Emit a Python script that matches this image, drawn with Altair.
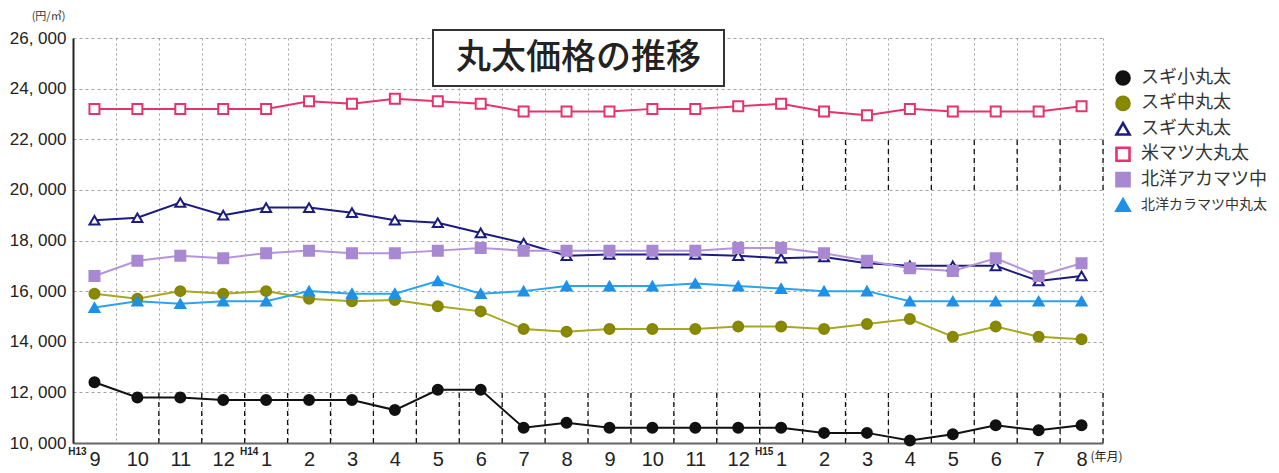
import json
import altair as alt
import pandas as pd
import numpy as np

# ---------------- data ----------------
months = ["9", "10", "11", "12", "1", "2", "3", "4", "5", "6", "7", "8",
          "9", "10", "11", "12", "1", "2", "3", "4", "5", "6", "7", "8"]
eras = ["H13", "H14", "H15"]
era_pos = [0, 4, 16]

series_names = ["スギ小丸太", "スギ中丸太", "スギ大丸太",
                "米マツ大丸太", "北洋アカマツ中", "北洋カラマツ中丸太"]

sugi_small = [12400, 11800, 11800, 11700, 11700, 11700, 11700, 11300, 12100, 12100, 10600, 10800,
              10600, 10600, 10600, 10600, 10600, 10400, 10400, 10100, 10350, 10700, 10500, 10700]
sugi_mid = [15900, 15700, 16000, 15900, 16000, 15700, 15600, 15650, 15400, 15200, 14500, 14400,
            14500, 14500, 14500, 14600, 14600, 14500, 14700, 14900, 14200, 14600, 14200, 14100]
sugi_large = [18800, 18900, 19500, 19000, 19300, 19300, 19100, 18800, 18700, 18300, 17900, 17400,
              17450, 17450, 17450, 17400, 17300, 17350, 17100, 17000, 17000, 17000, 16400, 16600]
beimatsu = [23200, 23200, 23200, 23200, 23200, 23500, 23400, 23600, 23500, 23400, 23100, 23100,
            23100, 23200, 23200, 23300, 23400, 23100, 22950, 23200, 23100, 23100, 23100, 23300]
akamatsu = [16600, 17200, 17400, 17300, 17500, 17600, 17500, 17500, 17600, 17700, 17600, 17600,
            17600, 17600, 17600, 17700, 17700, 17500, 17200, 16900, 16800, 17300, 16600, 17100]
karamatsu = [15350, 15600, 15500, 15600, 15600, 16000, 15900, 15900, 16400, 15900, 16000, 16200,
             16200, 16200, 16300, 16200, 16100, 16000, 16000, 15600, 15600, 15600, 15600, 15600]

y_ticks = list(range(10000, 26001, 2000))

title_text = "丸太価格の推移"
y_unit = "(円/㎥)"
x_unit = "(年月)"

# ---------------- styles ----------------
line_colors = ["#111111", "#A8A820", "#1C1C80", "#E8336A", "#B494DC", "#2AA4EE"]
stroke_colors = ["#111111", "#85850A", "#1C1C80", "#E8336A", "#A888D0", "#1E90E8"]
fill_colors = ["#111111", "#8A8A00", "#FFFFFF", "#FFFFFF", "#A888D0", "#1E90E8"]
shapes = ["circle", "circle", "triangle-up", "square", "square", "triangle-up"]

rows = []
for name, vals in zip(series_names, [sugi_small, sugi_mid, sugi_large, beimatsu, akamatsu, karamatsu]):
    for i, v in enumerate(vals):
        rows.append({"series": name, "idx": i, "value": v})
df = pd.DataFrame(rows)

W, H = 1030, 405
n = len(months)
half_band = W / n / 2.0
x_scale = alt.Scale(domain=[-0.5, n - 0.5], nice=False, zero=False)
y_scale = alt.Scale(domain=[10000, 26000], nice=False, zero=False)

fill_scale = alt.Scale(domain=series_names, range=fill_colors)
stroke_scale = alt.Scale(domain=series_names, range=stroke_colors)
shape_scale = alt.Scale(domain=series_names, range=shapes)

# grid at the band edges (i + 0.5); labels shifted back to the band centres
label_expr = json.dumps(months) + "[datum.value - 0.5]"
x_axis = alt.Axis(
    values=[i + 0.5 for i in range(n)],
    labelExpr=label_expr, labelOffset=-half_band, title=None, ticks=False, grid=True,
    gridColor="#a0a0a0", gridDash=[2, 3], gridWidth=1,
    domainColor="#666666", domainWidth=2,
    labelFontSize=20, labelFont="Liberation Sans", labelColor="#222222",
    labelPadding=6, labelFlush=False, labelOverlap=False, labelBound=False,
)
y_axis = alt.Axis(
    values=y_ticks,
    labelExpr="replace(format(datum.value, ','), ',', ', ')",
    title=y_unit, titleAngle=0, titleX=-25, titleY=-22, titleFontSize=11,
    titleFontWeight="normal", titleAlign="center", titleBaseline="middle",
    titleFont="Noto Sans CJK JP", titleColor="#333333",
    ticks=False, grid=True, gridColor="#a0a0a0", gridDash=[3, 3], gridWidth=1,
    domainColor="#222222", domainWidth=2,
    labelFontSize=17, labelFont="Liberation Sans", labelColor="#222222", labelPadding=7,
)

base = alt.Chart(df)

lines = base.mark_line(strokeWidth=2).encode(
    x=alt.X("idx:Q", scale=x_scale, axis=x_axis),
    y=alt.Y("value:Q", scale=y_scale, axis=y_axis),
    color=alt.Color("series:N", scale=alt.Scale(domain=series_names, range=line_colors), legend=None),
    detail="series:N",
)

points = base.mark_point(filled=True, size=100, strokeWidth=2, opacity=1).encode(
    x=alt.X("idx:Q", scale=x_scale),
    y=alt.Y("value:Q", scale=y_scale),
    fill=alt.Fill("series:N", scale=fill_scale, legend=None),
    stroke=alt.Stroke("series:N", scale=stroke_scale, legend=None),
    shape=alt.Shape("series:N", scale=shape_scale, legend=None),
)

# black dashed vertical separators (as in the original print)
lower_df = pd.DataFrame({"x": np.arange(1, n) + 0.5})
upper_df = pd.DataFrame({"x": np.arange(16, n) + 0.5})
lower_rules = alt.Chart(lower_df).mark_rule(color="#111111", strokeDash=[5, 4], strokeWidth=1.3).encode(
    x=alt.X("x:Q", scale=x_scale), y=alt.datum(10000), y2=alt.datum(12000)
)
upper_rules = alt.Chart(upper_df).mark_rule(color="#111111", strokeDash=[5, 4], strokeWidth=1.3).encode(
    x=alt.X("x:Q", scale=x_scale), y=alt.datum(20000), y2=alt.datum(22000)
)

era_df = pd.DataFrame({"label": eras, "idx": era_pos})
era_text = alt.Chart(era_df).mark_text(
    dx=-17, fontSize=10, fontWeight="bold", font="Liberation Sans", color="#222222",
    align="center", baseline="middle"
).encode(x=alt.X("idx:Q", scale=x_scale), y=alt.value(H + 9), text="label:N")

unit_df = pd.DataFrame({"label": [x_unit], "idx": [n - 1]})
unit_text = alt.Chart(unit_df).mark_text(
    dx=25, fontSize=12, font="Noto Sans CJK JP", color="#222222", align="center", baseline="middle"
).encode(x=alt.X("idx:Q", scale=x_scale), y=alt.value(H + 14), text="label:N")

title_df = pd.DataFrame({"label": [title_text]})
title_box = alt.Chart(title_df).mark_rect(fill="white", stroke="#333333", strokeWidth=2).encode(
    x=alt.value(360), x2=alt.value(651), y=alt.value(-8), y2=alt.value(48)
)
title_mark = alt.Chart(title_df).mark_text(
    fontSize=35, font="Noto Sans CJK JP", fontWeight=500, color="#222222",
    align="center", baseline="middle"
).encode(x=alt.value(505.5), y=alt.value(20), text="label:N")

main = alt.layer(lower_rules, upper_rules, lines, points, era_text, unit_text, title_box, title_mark)

# legend drawn as its own layer with an independent row scale
leg_df = pd.DataFrame({"series": series_names})
leg_y = alt.Y("series:N", scale=alt.Scale(type="point", domain=series_names, range=[40, 167], padding=0),
              axis=None)
leg_sym = alt.Chart(leg_df).mark_point(filled=True, size=170, strokeWidth=2.6, opacity=1).encode(
    x=alt.value(1050), y=leg_y,
    fill=alt.Fill("series:N", scale=fill_scale, legend=None),
    stroke=alt.Stroke("series:N", scale=stroke_scale, legend=None),
    shape=alt.Shape("series:N", scale=shape_scale, legend=None),
)
leg_txt_main = alt.Chart(pd.DataFrame({"series": series_names[:-1]})).mark_text(
    align="left", baseline="middle", font="Noto Sans CJK JP", color="#333333", fontSize=18
).encode(x=alt.value(1068), y=leg_y, text="series:N")
leg_txt_last = alt.Chart(pd.DataFrame({"series": series_names[-1:]})).mark_text(
    align="left", baseline="middle", font="Noto Sans CJK JP", color="#333333", fontSize=14
).encode(x=alt.value(1068), y=leg_y, text="series:N")
legend_layer = alt.layer(leg_sym, leg_txt_main, leg_txt_last)

chart = alt.layer(main, legend_layer).resolve_scale(y="independent").properties(
    width=W, height=H,
    padding={"left": 73, "top": 38, "right": 176, "bottom": 30},
    autosize=alt.AutoSizeParams(type="none"),
).configure_view(stroke=None)

chart.save("out.html", embed_options={"renderer": "svg", "actions": False})
